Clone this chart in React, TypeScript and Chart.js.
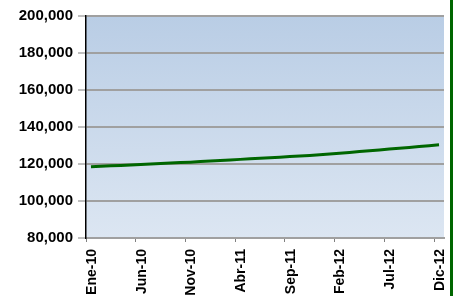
import React, { useEffect, useRef } from 'react';
import { Chart, registerables } from 'chart.js';

Chart.register(...registerables);

const monthNames = ['Ene', 'Feb', 'Mar', 'Abr', 'May', 'Jun', 'Jul', 'Ago', 'Sep', 'Oct', 'Nov', 'Dic'];
const years = ['10', '11', '12'];
const categories: string[] = years.flatMap((y) => monthNames.map((m) => `${m}-${y}`));

const seriesValues: number[] = [
  118500, 118750, 119000, 119250, 119500, 119750, 120000, 120250, 120500, 120750, 121000, 121300,
  121600, 121900, 122200, 122500, 122800, 123100, 123400, 123700, 124000, 124300, 124650, 125000,
  125400, 125800, 126250, 126700, 127150, 127600, 128050, 128500, 128950, 129400, 129900, 130400,
];

const yMin = 80000;
const yMax = 200000;
const yStep = 20000;
const labelEvery = 5;

const FONT = "'Liberation Sans', Arial, sans-serif";

const bgPlugin = {
  id: 'plotBg',
  beforeDraw(chart: any) {
    const { ctx, chartArea } = chart;
    if (!chartArea) return;
    const g = ctx.createLinearGradient(0, chartArea.top, 0, chartArea.bottom);
    g.addColorStop(0, '#b9cde5');
    g.addColorStop(1, '#dce6f2');
    ctx.save();
    ctx.fillStyle = g;
    ctx.fillRect(chartArea.left, chartArea.top, chartArea.right - chartArea.left, chartArea.bottom - chartArea.top);
    ctx.restore();
  },
};

export default function App() {
  const ref = useRef<HTMLCanvasElement | null>(null);

  useEffect(() => {
    if (!ref.current) return;
    const chart = new Chart(ref.current, {
      type: 'line',
      data: {
        labels: categories,
        datasets: [
          {
            data: seriesValues,
            borderColor: '#006600',
            borderWidth: 3,
            pointRadius: 0,
            tension: 0,
            fill: false,
          },
        ],
      },
      options: {
        animation: false,
        responsive: false,
        maintainAspectRatio: false,
        layout: { padding: { top: 16, right: 6, left: 0, bottom: 0 } },
        plugins: { legend: { display: false }, tooltip: { enabled: false } },
        scales: {
          x: {
            type: 'category',
            offset: true,
            grid: {
              offset: true,
              drawOnChartArea: false,
              drawTicks: true,
              tickLength: 4,
              tickColor: (c: any) => (c.index % labelEvery === 0 ? '#808080' : 'rgba(0,0,0,0)'),
              tickWidth: 1,
            },
            border: { color: '#a0a0a0', width: 2 },
            ticks: {
              autoSkip: false,
              maxRotation: 90,
              minRotation: 90,
              padding: 7,
              labelOffset: 1,
              color: '#000',
              font: { family: FONT, size: 14, weight: 'bold' },
              callback: (_v: any, i: number) => (i % labelEvery === 0 ? categories[i] : ''),
            },
            afterFit: (s: any) => {
              s.height = 58;
              s.paddingLeft = 0;
              s.paddingRight = 0;
            },
          },
          y: {
            min: yMin,
            max: yMax,
            grid: {
              color: '#a0a0a0',
              lineWidth: 2,
              tickLength: 8,
              tickColor: '#808080',
              tickWidth: 1,
            },
            border: { color: '#000', width: 1.5 },
            ticks: {
              stepSize: yStep,
              padding: 5,
              color: '#000',
              font: { family: FONT, size: 15, weight: 'bold' },
              callback: (v: any) => Number(v).toLocaleString('en-US'),
            },
            afterFit: (s: any) => {
              s.width = 86;
              s.paddingTop = 0;
              s.paddingBottom = 0;
            },
          },
        },
      },
      plugins: [bgPlugin],
    });
    return () => chart.destroy();
  }, []);

  return (
    <div style={{ position: 'fixed', left: 0, top: 0, width: 453, height: 296, background: '#fff' }}>
      <canvas ref={ref} width={450} height={296} style={{ position: 'absolute', left: 0, top: 0, width: 450, height: 296 }} />
      <div style={{ position: 'absolute', left: 450, top: 0, width: 3, height: 296, background: '#006600' }} />
    </div>
  );
}
